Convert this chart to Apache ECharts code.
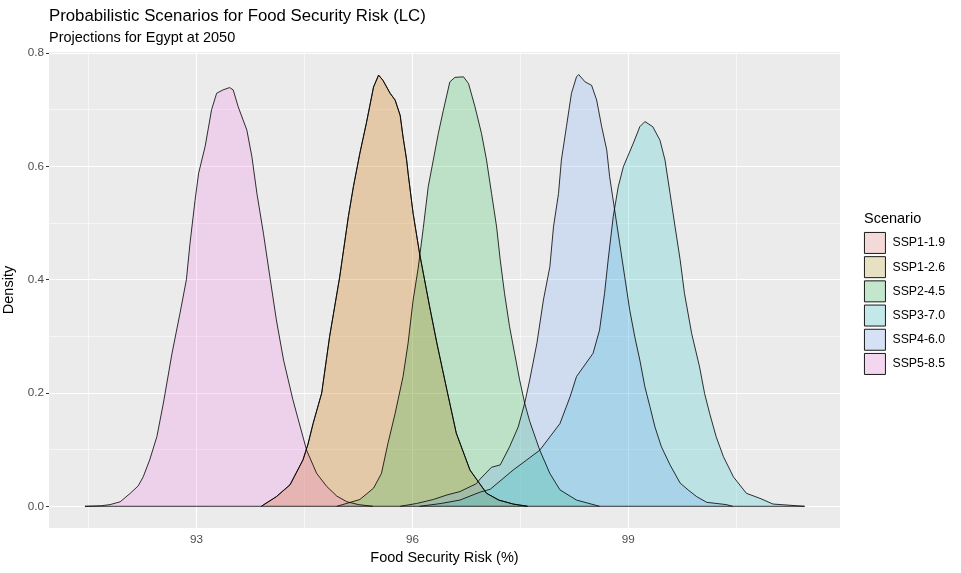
<!DOCTYPE html>
<html lang="en">
<head>
<meta charset="UTF-8">
<title>Food Security Risk (LC)</title>
<style>
  html, body { margin: 0; padding: 0; background: #fff; }
  #chart { width: 961px; height: 573px; }
</style>
</head>
<body>
<div id="chart"></div>
<script src="https://cdn.jsdelivr.net/npm/echarts@6/dist/echarts.min.js"></script>
<script>
  const FONT = '"Liberation Sans", Arial, sans-serif'

  const scenarios = ['SSP1-1.9', 'SSP1-2.6', 'SSP2-4.5', 'SSP3-7.0', 'SSP4-6.0', 'SSP5-8.5']
  const fills = ['#F8766D', '#B79F00', '#00BA38', '#00BFC4', '#619CFF', '#F564E3']
  // same hues at alpha .2 over the grey95 key background
  const keyFills = ['#F3D9D7', '#E6E1C2', '#C2E7CD', '#C2E8E9', '#D5E1F5', '#F3D6EF']

  const xTicks = [93, 96, 99]
  const xMinor = [91.5, 94.5, 97.5, 100.5]
  const yTicks = [0, 0.2, 0.4, 0.6, 0.8]
  const yMinor = [0.1, 0.3, 0.5, 0.7]

  // density curves: [risk %, density]
  const ssp119 = [
    [93.90, 0], [94.11, 0.017], [94.30, 0.038], [94.48, 0.082], [94.55, 0.11], [94.62, 0.146],
    [94.74, 0.20], [94.85, 0.30], [94.99, 0.405], [95.11, 0.511], [95.18, 0.564], [95.27, 0.623],
    [95.36, 0.676], [95.46, 0.74], [95.53, 0.761], [95.59, 0.752], [95.69, 0.729], [95.76, 0.717],
    [95.83, 0.69], [95.87, 0.652], [95.92, 0.611], [95.94, 0.588], [96.01, 0.517], [96.10, 0.446],
    [96.24, 0.352], [96.34, 0.288], [96.48, 0.205], [96.61, 0.129], [96.80, 0.064], [97.03, 0.023],
    [97.20, 0.011], [97.40, 0.004], [97.60, 0]
  ]
  // SSP1-2.6 lies exactly on SSP1-1.9 in the picture
  const ssp126 = ssp119
  const ssp245 = [
    [94.95, 0], [95.27, 0.012], [95.46, 0.032], [95.57, 0.058], [95.66, 0.111], [95.76, 0.164],
    [95.87, 0.229], [95.94, 0.288], [96.01, 0.364], [96.08, 0.42], [96.15, 0.49], [96.22, 0.564],
    [96.29, 0.611], [96.36, 0.658], [96.43, 0.699], [96.52, 0.749], [96.59, 0.757], [96.71, 0.758],
    [96.78, 0.746], [96.87, 0.705], [96.96, 0.658], [97.03, 0.611], [97.10, 0.552], [97.17, 0.493],
    [97.22, 0.435], [97.28, 0.376], [97.35, 0.317], [97.42, 0.27], [97.49, 0.223], [97.56, 0.182],
    [97.63, 0.15], [97.77, 0.099], [97.91, 0.058], [98.05, 0.029], [98.28, 0.011], [98.60, 0]
  ]
  const ssp370 = [
    [96.10, 0], [96.40, 0.005], [96.66, 0.011], [96.94, 0.025], [97.08, 0.03], [97.40, 0.064],
    [97.77, 0.099], [98.05, 0.146], [98.19, 0.193], [98.28, 0.229], [98.51, 0.27], [98.60, 0.311],
    [98.67, 0.376], [98.72, 0.435], [98.79, 0.511], [98.86, 0.564], [98.93, 0.599], [99.07, 0.641],
    [99.16, 0.67], [99.23, 0.679], [99.34, 0.67], [99.44, 0.646], [99.51, 0.611], [99.58, 0.552],
    [99.65, 0.493], [99.72, 0.435], [99.78, 0.376], [99.88, 0.305], [99.99, 0.246], [100.06, 0.199],
    [100.13, 0.164], [100.22, 0.123], [100.32, 0.088], [100.46, 0.052], [100.64, 0.023],
    [100.83, 0.014], [101.01, 0.004], [101.45, 0]
  ]
  const ssp460 = [
    [95.83, 0], [96.06, 0.005], [96.29, 0.012], [96.48, 0.02], [96.66, 0.026], [96.89, 0.04],
    [96.94, 0.048], [97.10, 0.069], [97.22, 0.073], [97.35, 0.105], [97.47, 0.14], [97.56, 0.182],
    [97.63, 0.223], [97.73, 0.288], [97.82, 0.364], [97.91, 0.423], [97.96, 0.493], [98.03, 0.552],
    [98.07, 0.611], [98.14, 0.67], [98.21, 0.729], [98.28, 0.758], [98.31, 0.762], [98.40, 0.749],
    [98.49, 0.743], [98.56, 0.717], [98.63, 0.67], [98.70, 0.629], [98.74, 0.582], [98.81, 0.523],
    [98.88, 0.464], [98.95, 0.405], [99.02, 0.346], [99.09, 0.299], [99.16, 0.258], [99.23, 0.211],
    [99.30, 0.176], [99.37, 0.14], [99.46, 0.105], [99.58, 0.073], [99.72, 0.041], [99.83, 0.029],
    [99.95, 0.017], [100.09, 0.007], [100.36, 0.003], [100.45, 0]
  ]
  const ssp585 = [
    [91.45, 0], [91.68, 0.001], [91.80, 0.003], [91.94, 0.008], [92.08, 0.023], [92.19, 0.036],
    [92.26, 0.052], [92.35, 0.082], [92.45, 0.123], [92.54, 0.182], [92.66, 0.27], [92.77, 0.34],
    [92.86, 0.40], [92.91, 0.464], [92.98, 0.54], [93.03, 0.588], [93.12, 0.635], [93.21, 0.70],
    [93.28, 0.729], [93.37, 0.735], [93.46, 0.739], [93.51, 0.735], [93.58, 0.705], [93.70, 0.664],
    [93.77, 0.617], [93.84, 0.552], [93.93, 0.482], [94.02, 0.405], [94.11, 0.329], [94.21, 0.258],
    [94.34, 0.188], [94.41, 0.155], [94.53, 0.099], [94.67, 0.058], [94.81, 0.035], [94.95, 0.018],
    [95.09, 0.008], [95.25, 0.003], [95.45, 0]
  ]

  const curves = [ssp119, ssp126, ssp245, ssp370, ssp460, ssp585]

  const allX = curves.flat().map(p => p[0])
  const baseFrom = Math.min(...allX)
  const baseTo = Math.max(...allX)

  const gridLine = (key, v, w) => ({ [key]: v, lineStyle: { color: '#fff', width: w, type: 'solid' } })

  const series = scenarios.map((name, i) => ({
    name: name,
    type: 'line',
    data: curves[i],
    symbol: 'none',
    showSymbol: false,
    silent: true,
    z: 2,
    lineStyle: { color: '#000', width: 0.8 },
    itemStyle: { color: fills[i] },
    areaStyle: { color: fills[i], opacity: 0.2 }
  }))

  // white panel grid lines, behind the densities
  series.unshift({
    name: 'grid',
    type: 'line',
    data: [],
    silent: true,
    markLine: {
      silent: true,
      z: 1,
      symbol: 'none',
      label: { show: false },
      animation: false,
      data: [
        ...xMinor.map(v => gridLine('xAxis', v, 0.55)),
        ...yMinor.map(v => gridLine('yAxis', v, 0.55)),
        ...xTicks.map(v => gridLine('xAxis', v, 1.1)),
        ...yTicks.map(v => gridLine('yAxis', v, 1.1))
      ]
    }
  })

  // outline along the baseline, as the density polygons draw it
  series.push({
    name: 'baseline',
    type: 'line',
    data: [[baseFrom, 0], [baseTo, 0]],
    symbol: 'none',
    silent: true,
    z: 3,
    lineStyle: { color: '#000', width: 0.8 }
  })

  const chart = echarts.init(document.getElementById('chart'))

  chart.setOption({
    animation: false,
    textStyle: { fontFamily: FONT },
    title: [
      {
        text: 'Probabilistic Scenarios for Food Security Risk (LC)',
        subtext: 'Projections for Egypt at 2050',
        left: 44,
        top: 3,
        itemGap: 5,
        textStyle: { fontFamily: FONT, fontSize: 16.8, fontWeight: 'normal', color: '#000' },
        subtextStyle: { fontFamily: FONT, fontSize: 14.5, color: '#000' }
      },
      {
        text: 'Scenario',
        left: 864,
        top: 211,
        padding: 0,
        textStyle: { fontFamily: FONT, fontSize: 14.5, fontWeight: 'normal', color: '#000' }
      }
    ],
    legend: {
      orient: 'vertical',
      left: 864,
      top: 232,
      padding: 0,
      itemWidth: 21,
      itemHeight: 21,
      itemGap: 2.3,
      selectedMode: false,
      textStyle: { fontFamily: FONT, fontSize: 12.3, color: '#000', padding: [0, 0, 0, 2] },
      data: scenarios.map((name, i) => ({
        name: name,
        icon: 'rect',
        itemStyle: { color: keyFills[i], borderColor: '#000', borderWidth: 0.9 }
      }))
    },
    grid: {
      left: 49,
      right: 121,
      top: 52,
      bottom: 45,
      outerBoundsMode: 'none',
      containLabel: false,
      show: true,
      backgroundColor: '#EBEBEB',
      borderWidth: 0
    },
    xAxis: {
      type: 'value',
      min: 90.951,
      max: 101.941,
      name: 'Food Security Risk (%)',
      nameLocation: 'middle',
      nameGap: 22,
      nameTextStyle: { fontFamily: FONT, fontSize: 14.5, color: '#000' },
      axisLine: { show: false },
      splitLine: { show: false },
      axisTick: { show: true, length: 3, customValues: xTicks, lineStyle: { color: '#333', width: 1 } },
      axisLabel: { customValues: xTicks, margin: 6, color: '#4D4D4D', fontSize: 11.7, fontFamily: FONT }
    },
    yAxis: {
      type: 'value',
      min: -0.0383,
      max: 0.8018,
      name: 'Density',
      nameLocation: 'middle',
      nameGap: 27,
      nameTextStyle: { fontFamily: FONT, fontSize: 14.5, color: '#000' },
      axisLine: { show: false },
      splitLine: { show: false },
      axisTick: { show: true, length: 3, customValues: yTicks, lineStyle: { color: '#333', width: 1 } },
      axisLabel: {
        customValues: yTicks,
        margin: 5,
        color: '#4D4D4D',
        fontSize: 11.7,
        fontFamily: FONT,
        formatter: v => v.toFixed(1)
      }
    },
    series: series
  })
</script>
</body>
</html>
